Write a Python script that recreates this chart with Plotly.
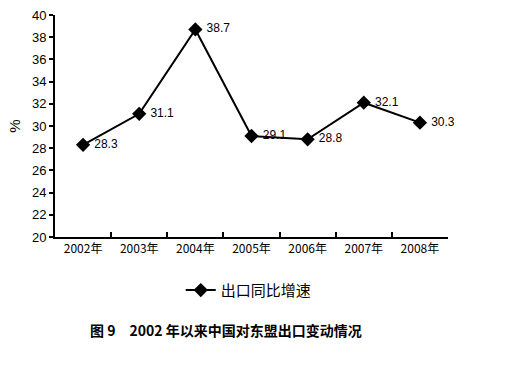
import plotly.graph_objects as go

years = ["2002年", "2003年", "2004年", "2005年", "2006年", "2007年", "2008年"]
growth = [28.3, 31.1, 38.7, 29.1, 28.8, 32.1, 30.3]
labels = ["28.3", "31.1", "38.7", "29.1", "28.8", "32.1", "30.3"]
series_name = "出口同比增速"
caption = "图 9　2002 年以来中国对东盟出口变动情况"

font_fam = "Liberation Sans, Arial, Noto Sans CJK SC, sans-serif"

fig = go.Figure()
fig.add_trace(go.Scatter(
    x=years, y=growth, mode="lines+markers+text",
    name=series_name,
    text=[" " + t for t in labels], textposition="middle right",
    textfont=dict(size=12, color="black", family=font_fam),
    line=dict(color="black", width=2),
    marker=dict(symbol="diamond", size=11, color="black"),
    cliponaxis=False,
))

fig.update_layout(
    width=512, height=384,
    margin=dict(l=55, r=64, t=15, b=147, autoexpand=False),
    paper_bgcolor="white", plot_bgcolor="white",
    font=dict(family=font_fam, color="black"),
    showlegend=True,
    legend=dict(orientation="h", x=0.32, xanchor="left", y=-0.24, yanchor="middle",
                font=dict(size=15, family="Noto Sans CJK SC, sans-serif"),
                bgcolor="rgba(0,0,0,0)"),
    annotations=[dict(text="<b>" + caption + "</b>", xref="paper", yref="paper",
                      x=0.435, y=-0.42, xanchor="center", yanchor="middle",
                      showarrow=False,
                      font=dict(size=14, family="Noto Sans CJK SC, sans-serif", color="black"))],
)
fig.update_xaxes(
    type="category", range=[-0.5, 6.5], tickson="boundaries", automargin=False,
    ticks="inside", ticklen=5, tickcolor="black", tickwidth=1.5,
    showline=True, linecolor="black", linewidth=2,
    showgrid=False, tickfont=dict(size=12, family="Noto Sans CJK SC, sans-serif"),
)
fig.update_yaxes(
    range=[20, 40], dtick=2, ticks="outside", ticklen=4, tickcolor="black", tickwidth=1.5,
    showline=True, linecolor="black", linewidth=2, showgrid=False, zeroline=False,
    automargin=False,
    tickfont=dict(size=13), title=dict(text="%", font=dict(size=15), standoff=8),
)

fig.write_html("out.html", config={"displayModeBar": False},
               post_script="document.body.style.margin='0';")
